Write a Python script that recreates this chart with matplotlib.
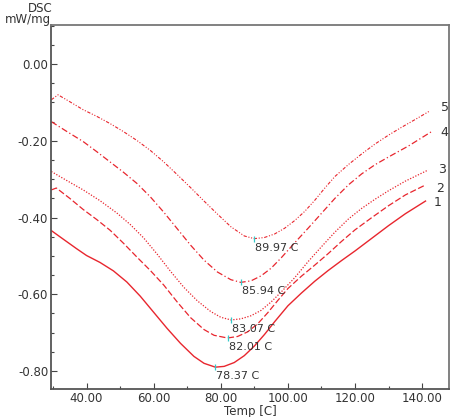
import matplotlib
matplotlib.use('Agg')
import matplotlib.pyplot as plt
from matplotlib.ticker import MultipleLocator, FormatStrFormatter

plt.rcParams['font.family'] = ['DejaVu Sans']
plt.rcParams['axes.unicode_minus'] = False

# curve 1 (solid)
temp_1 = [29.5, 33, 37, 40, 44, 48, 52, 56, 60, 64, 68, 72, 75, 78.37, 81, 84, 87, 90,
          93, 96, 100, 104, 108, 112, 116, 120, 125, 130, 135, 141]
dsc_1 = [-0.434, -0.456, -0.481, -0.499, -0.517, -0.539, -0.568, -0.605, -0.647, -0.689,
         -0.728, -0.762, -0.780, -0.790, -0.788, -0.778, -0.760, -0.735, -0.705, -0.672,
         -0.630, -0.597, -0.566, -0.538, -0.512, -0.487, -0.454, -0.421, -0.390, -0.357]

# curve 2 (dashed)
temp_2 = [29.5, 31, 35, 39, 43, 47, 51, 55, 59, 63, 67, 71, 75, 78, 82.01, 85, 88, 91,
          94, 97, 100, 104, 108, 112, 116, 120, 125, 130, 135, 141]
dsc_2 = [-0.328, -0.323, -0.350, -0.379, -0.405, -0.433, -0.467, -0.503, -0.538, -0.576,
         -0.620, -0.661, -0.692, -0.707, -0.714, -0.710, -0.698, -0.677, -0.648, -0.616,
         -0.585, -0.553, -0.524, -0.494, -0.462, -0.432, -0.400, -0.369, -0.341, -0.315]

# curve 3 (dotted)
temp_3 = [29.5, 34, 39, 44, 49, 53, 57, 61, 65, 69, 73, 77, 80, 83.07, 86, 89, 92, 95,
          98, 102, 106, 110, 114, 118, 122, 126, 130, 135, 141.8]
dsc_3 = [-0.280, -0.303, -0.328, -0.356, -0.388, -0.418, -0.453, -0.495, -0.540, -0.582,
         -0.617, -0.645, -0.660, -0.667, -0.664, -0.656, -0.642, -0.620, -0.594, -0.557,
         -0.515, -0.476, -0.438, -0.404, -0.376, -0.352, -0.330, -0.305, -0.276]

# curve 4 (dash-dot)
temp_4 = [29.5, 34, 39, 43, 47, 51, 55, 59, 63, 67, 71, 75, 79, 83, 85.94, 89, 92, 95,
          98, 102, 106, 110, 114, 118, 122, 126, 130, 136, 142.8]
dsc_4 = [-0.150, -0.175, -0.202, -0.228, -0.255, -0.282, -0.311, -0.346, -0.386, -0.429,
         -0.472, -0.511, -0.542, -0.562, -0.569, -0.565, -0.552, -0.532, -0.505, -0.466,
         -0.428, -0.389, -0.350, -0.315, -0.286, -0.262, -0.242, -0.213, -0.176]

# curve 5 (dash-dot-dot)
temp_5 = [29.5, 31.5, 35, 39, 43, 47, 51, 55, 59, 63, 67, 71, 75, 79, 83, 87, 89.97, 93,
          96, 99, 102, 105, 108, 111, 114, 118, 122, 126, 130, 134, 138, 142.3]
dsc_5 = [-0.093, -0.080, -0.098, -0.119, -0.136, -0.155, -0.176, -0.199, -0.225, -0.255,
         -0.288, -0.322, -0.357, -0.391, -0.424, -0.448, -0.455, -0.452, -0.443, -0.428,
         -0.408, -0.384, -0.355, -0.323, -0.293, -0.262, -0.234, -0.208, -0.185, -0.164,
         -0.144, -0.122]

peak_temps = [78.37, 82.01, 83.07, 85.94, 89.97]
peak_dsc = [-0.790, -0.714, -0.667, -0.569, -0.455]
peak_labels = ['78.37 C', '82.01 C', '83.07 C', '85.94 C', '89.97 C']

curve_names = ['1', '2', '3', '4', '5']
name_x = [143.5, 144.1, 144.7, 145.3, 145.6]
name_y = [-0.362, -0.323, -0.276, -0.179, -0.114]

red = '#e8262e'
styles = ['-', (0, (5, 2)), (0, (1, 1.3)), (0, (5, 2, 1, 2)), (0, (3, 1.5, 1, 1.5, 1, 1.5))]
widths = [1.0, 0.9, 0.9, 0.9, 0.8]
temps = [temp_1, temp_2, temp_3, temp_4, temp_5]
dscs = [dsc_1, dsc_2, dsc_3, dsc_4, dsc_5]

fig = plt.figure(figsize=(4.61, 4.17), dpi=100)
ax = fig.add_axes([0.1106, 0.0671, 0.8634, 0.873])

for t, d, ls, lw in zip(temps, dscs, styles, widths):
    ax.plot(t, d, color=red, linestyle=ls, linewidth=lw)

# peak markers and labels
ax.plot(peak_temps, peak_dsc, linestyle='none', marker='|', markersize=4,
        markeredgewidth=0.9, color='#35c9c9')
for px, py, lab in zip(peak_temps, peak_dsc, peak_labels):
    ax.annotate(lab, (px, py), xytext=(1, -9), textcoords='offset pixels',
                ha='left', va='center', fontsize=8, color='#333333')

for nx, ny, nm in zip(name_x, name_y, curve_names):
    ax.text(nx, ny, nm, fontsize=9, color='#333333', ha='left', va='center')

ax.set_xlim(29.4, 148)
ax.set_ylim(-0.847, 0.102)

ax.xaxis.set_major_locator(MultipleLocator(20))
ax.xaxis.set_minor_locator(MultipleLocator(10))
ax.yaxis.set_major_locator(MultipleLocator(0.2))
ax.yaxis.set_minor_locator(MultipleLocator(0.05))
ax.xaxis.set_major_formatter(FormatStrFormatter('%.2f'))
ax.yaxis.set_major_formatter(FormatStrFormatter('%.2f'))

ax.tick_params(which='both', direction='in', colors='#444444', labelcolor='#333333',
               labelsize=8.5)
ax.tick_params(which='major', length=4, width=0.8, pad=2)
ax.tick_params(which='minor', length=2.5, width=0.8)

for side in ['left', 'bottom']:
    ax.spines[side].set_color('#555555')
    ax.spines[side].set_linewidth(1.3)
for side in ['top', 'right']:
    ax.spines[side].set_color('#777777')
    ax.spines[side].set_linewidth(1.3)

ax.set_xlabel('Temp [C]', fontsize=8.5, color='#333333', labelpad=0)
fig.text(53 / 461, 1 - 8 / 417, 'DSC', ha='right', va='center', fontsize=8.5, color='#333333')
fig.text(51 / 461, 1 - 20 / 417, 'mW/mg', ha='right', va='center', fontsize=8.5, color='#333333')

fig.savefig('out.png', dpi=100)
